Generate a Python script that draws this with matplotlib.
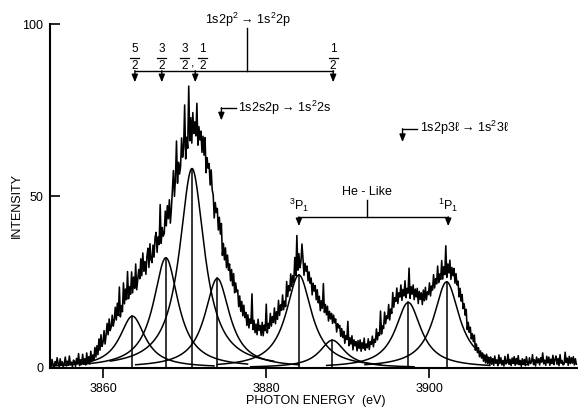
import numpy as np
import matplotlib
matplotlib.use('Agg')
import matplotlib.pyplot as plt

# measured spectrum, 0.125 eV steps starting at 3853.5 eV (one row = 1 eV)
e_start = 3853.5
e_step = 0.125
counts = [
    1.5, 0.3, 2.4, 0.9, 0.2, 1.8, 0.6, 2.9,
    1.1, 0.4, 2.6, 0.8, 1.7, 0.2, 1.3, 3.1,
    0.5, 1.9, 0.7, 3.4, 0.9, 1.6, 0.3, 2.2,
    1.8, 0.4, 2.7, 1.2, 4.1, 0.6, 2.3, 0.9,
    3.9, 1.0, 2.6, 0.8, 4.3, 1.5, 3.2, 1.1,
    4.8, 1.9, 3.7, 2.3, 5.9, 3.1, 6.4, 3.8,
    8.4, 5.1, 9.6, 6.2, 7.4, 10.8, 6.9, 9.5,
    12.9, 9.6, 14.2, 10.8, 11.9, 15.3, 12.1, 13.8,
    17.6, 13.9, 18.8, 15.2, 23.5, 14.8, 18.1, 16.3,
    24.7, 18.6, 22.9, 19.8, 28.0, 20.1, 23.6, 21.4,
    27.9, 21.8, 26.4, 23.1, 30.2, 22.7, 25.8, 28.6,
    25.9, 31.7, 26.8, 33.4, 28.1, 30.9, 27.2, 32.3,
    34.8, 29.2, 36.1, 31.4, 30.6, 35.7, 32.2, 37.9,
    39.4, 33.6, 38.1, 35.9, 47.5, 36.2, 40.8, 38.3,
    39.1, 45.6, 41.3, 47.2, 43.4, 48.9, 42.1, 46.3,
    51.8, 57.4, 49.9, 55.3, 66.0, 53.7, 59.8, 56.4,
    58.6, 66.9, 61.3, 64.2, 76.5, 60.8, 67.1, 63.9,
    82.0, 66.1, 72.8, 65.4, 74.3, 68.2, 71.6, 67.5,
    77.0, 64.8, 70.2, 66.3, 68.9, 62.7, 67.4, 61.9,
    67.0, 56.8, 61.2, 58.1, 59.4, 53.2, 57.6, 51.8,
    50.3, 43.6, 48.1, 45.2, 46.4, 40.1, 43.8, 38.9,
    42.0, 32.7, 36.2, 31.4, 34.9, 29.1, 32.8, 28.4,
    30.2, 25.3, 28.6, 23.9, 27.4, 21.8, 24.7, 22.1,
    22.6, 17.8, 20.9, 16.4, 19.3, 15.1, 18.2, 14.6,
    16.1, 12.3, 15.4, 11.6, 14.2, 12.9, 21.5, 11.1,
    13.8, 10.2, 12.7, 9.6, 14.1, 10.9, 12.3, 9.4,
    13.2, 9.3, 12.4, 10.8, 18.5, 10.1, 12.9, 11.5,
    15.8, 12.1, 14.9, 13.2, 17.4, 12.8, 16.3, 14.1,
    19.6, 15.2, 18.3, 16.7, 21.2, 16.9, 19.4, 17.8,
    25.1, 20.7, 23.9, 22.4, 27.3, 23.6, 26.8, 24.9,
    32.1, 26.8, 38.5, 28.4, 33.2, 29.1, 30.8, 36.0,
    31.8, 26.9, 30.4, 28.1, 29.6, 25.3, 27.9, 24.6,
    26.1, 21.2, 24.6, 22.3, 23.9, 19.8, 22.7, 18.9,
    20.8, 16.6, 19.5, 17.3, 24.5, 16.1, 18.4, 15.4,
    17.9, 13.6, 16.4, 14.2, 15.8, 12.9, 15.3, 13.1,
    14.2, 10.4, 12.8, 11.6, 12.3, 9.1, 11.4, 8.8,
    10.6, 7.1, 9.4, 8.2, 13.5, 6.4, 8.7, 6.9,
    9.3, 5.2, 8.1, 6.4, 7.6, 4.9, 7.9, 5.6,
    8.1, 4.8, 7.3, 5.6, 8.6, 5.1, 6.9, 5.8,
    8.4, 5.3, 7.6, 6.8, 9.2, 6.1, 8.3, 7.4,
    11.3, 8.1, 10.2, 9.4, 16.5, 9.8, 12.2, 11.4,
    16.2, 12.8, 15.1, 14.3, 18.4, 13.9, 17.1, 15.8,
    21.9, 17.6, 20.4, 19.3, 23.2, 18.7, 21.8, 20.6,
    24.1, 19.6, 22.8, 20.9, 25.3, 20.4, 23.1, 21.7,
    29.0, 20.2, 23.6, 21.4, 24.1, 19.8, 22.9, 20.6,
    23.1, 18.7, 22.2, 19.9, 21.8, 18.4, 22.6, 19.5,
    23.4, 19.8, 22.1, 21.3, 24.7, 20.9, 23.8, 22.6,
    27.1, 23.2, 25.9, 24.4, 29.6, 24.8, 27.3, 25.7,
    31.2, 25.8, 29.4, 27.1, 35.5, 26.3, 30.2, 27.6,
    31.3, 25.7, 29.2, 26.8, 28.9, 24.6, 27.4, 24.1,
    25.2, 20.6, 23.1, 19.4, 21.3, 17.2, 18.6, 15.3,
    17.0, 11.1, 13.2, 10.3, 11.8, 8.4, 9.9, 7.6,
    9.5, 5.1, 6.9, 4.4, 5.8, 3.2, 4.9, 2.8,
    4.3, 1.9, 3.6, 1.4, 3.9, 1.2, 2.8, 0.9,
    3.1, 1.0, 2.5, 0.7, 3.4, 1.3, 2.2, 0.6,
    3.7, 1.2, 2.9, 0.8, 2.1, 0.5, 3.3, 1.1,
    1.8, 3.9, 1.0, 2.4, 0.6, 2.8, 1.4, 3.2,
    0.7, 2.7, 1.3, 3.5, 0.9, 2.1, 0.4, 2.6,
    1.1, 2.4, 0.6, 3.2, 1.5, 0.8, 2.9, 1.2,
    1.7, 3.8, 0.9, 2.3, 0.5, 3.1, 1.4, 2.6,
    0.8, 2.9, 1.6, 4.3, 1.1, 2.2, 0.7, 3.3,
    1.4, 3.1, 0.7, 2.5, 1.2, 3.6, 0.9, 2.4,
    3.4, 1.0, 2.7, 0.6, 3.8, 1.3, 2.1, 0.8,
    1.1, 4.5, 1.5, 2.8, 0.7, 3.3, 1.2, 2.9,
    1.3, 3.2, 0.8, 2.6, 1.0,
]

# fitted Lorentzian components
peak_centers = [3863.6, 3867.7, 3870.9, 3874.0, 3884.0, 3888.1, 3897.4, 3902.1]
peak_heights = [15, 32, 58, 26, 27, 8, 19, 25]
peak_hwhm = [1.9, 1.85, 1.85, 1.85, 1.9, 1.9, 1.9, 1.9]

# line identifications
li_positions = [3863.9, 3867.2, 3871.3, 3888.2]
li_labels = [('5', '2'), ('3', '2'), None, ('1', '2')]
he_positions = [3884.0, 3902.3]
he_labels = ['$^3$P$_1$', '$^1$P$_1$']

x_ticks = [3860, 3880, 3900]
y_ticks = [0, 50, 100]

plt.rcParams['font.family'] = ['Liberation Sans', 'DejaVu Sans']
plt.rcParams['mathtext.default'] = 'regular'

fig = plt.figure(figsize=(5.78, 4.11), dpi=100)
ax = fig.add_axes([50/578, 43.3/411, 528/578, 343.4/411])

energy = e_start + e_step*np.arange(len(counts))
ax.plot(energy, counts, color='k', lw=1.15)

for c, h, g in zip(peak_centers, peak_heights, peak_hwhm):
    xx = np.linspace(c-10, c+10, 400)
    ax.plot(xx, h/(1+((xx-c)/g)**2), color='k', lw=1.1)
    ax.plot([c, c], [0, h], color='k', lw=1.1)

ax.set_xlim(3853.5, 3918.2)
ax.set_ylim(0, 100)
ax.set_xticks(x_ticks)
ax.set_yticks(y_ticks)
ax.tick_params(axis='x', direction='out', length=7, width=1.2, pad=4, labelsize=9)
ax.tick_params(axis='y', direction='in', length=7, width=1.2, pad=5, labelsize=9)
for s in ['top', 'right']:
    ax.spines[s].set_visible(False)
for s in ['left', 'bottom']:
    ax.spines[s].set_linewidth(1.5)

fig.text(17/578, 1-205/411, 'INTENSITY', rotation=90, ha='center', va='center', fontsize=9)
fig.text(316/578, 1-401/411, 'PHOTON ENERGY  (eV)', ha='center', va='center', fontsize=9)

def down_arrow(x, y0, y1):
    ax.annotate('', xy=(x, y1), xytext=(x, y0), annotation_clip=False,
                arrowprops=dict(arrowstyle='-|>,head_length=0.45,head_width=0.18',
                                lw=1, color='k', shrinkA=0, shrinkB=0))

def frac(x, num, den, y=90.2):
    ax.text(x, y+1.0, num, ha='center', va='bottom', fontsize=8.5, clip_on=False)
    ax.text(x, y-0.6, den, ha='center', va='top', fontsize=8.5, clip_on=False)
    ax.plot([x-0.55, x+0.55], [y, y], color='k', lw=0.9, clip_on=False)

# 1s2p2 -> 1s2 2p
bar_y = 86.5
ax.text(3877.75, 101.4, '1s2p$^2$ → 1s$^2$2p', ha='center', va='center', fontsize=9, clip_on=False)
ax.plot([3877.6, 3877.6], [98.8, bar_y], color='k', lw=1, clip_on=False)
ax.plot([li_positions[0], li_positions[-1]], [bar_y, bar_y], color='k', lw=1, clip_on=False)
for x, lab in zip(li_positions, li_labels):
    down_arrow(x, bar_y, 83.1)
    if lab:
        frac(x, lab[0], lab[1])
frac(3870.0, '3', '2')
frac(3872.2, '1', '2')
ax.text(3871.0, 88.6, ',', ha='center', va='center', fontsize=9, clip_on=False)

# 1s2s2p -> 1s2 2s
ax.plot([3874.5, 3876.35], [75.7, 75.7], color='k', lw=1)
down_arrow(3874.5, 75.7, 72.0)
ax.text(3876.55, 75.7, '1s2s2p → 1s$^2$2s', ha='left', va='center', fontsize=9)

# 1s2p3l -> 1s2 3l
ax.plot([3896.7, 3898.45], [69.6, 69.6], color='k', lw=1)
down_arrow(3896.7, 69.6, 65.7)
ax.text(3898.8, 69.7, '1s2p3ℓ → 1s$^2$3ℓ', ha='left', va='center', fontsize=9)

# He-like
ax.text(3892.3, 51.2, 'He - Like', ha='center', va='center', fontsize=9)
ax.plot([3892.3, 3892.3], [48.75, 43.9], color='k', lw=1)
ax.plot(he_positions, [43.9, 43.9], color='k', lw=1)
for x, lab in zip(he_positions, he_labels):
    down_arrow(x, 43.9, 41.2)
    ax.text(x, 47.2, lab, ha='center', va='center', fontsize=9)

fig.savefig('out.png', dpi=100)
